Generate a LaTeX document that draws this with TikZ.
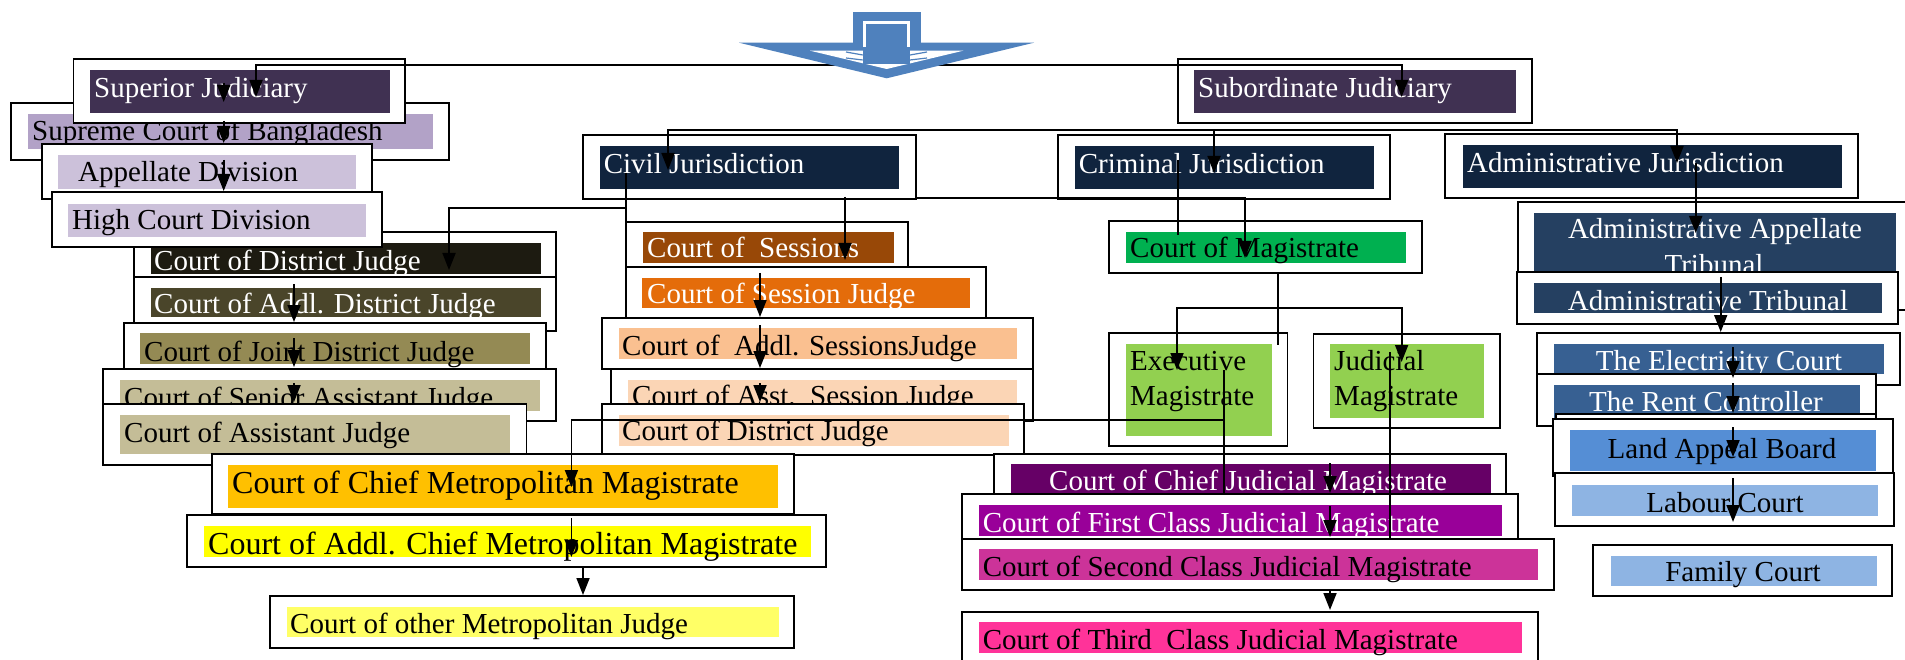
\documentclass[tikz,border=0pt]{standalone}
\usepackage{fontspec}
\setmainfont{Liberation Serif}
\usetikzlibrary{fit,arrows.meta}

\newcommand\fsz{\fontsize{29}{32}\selectfont}
\newcommand\fbig{\fontsize{32}{35}\selectfont}

\definecolor{cSup}{HTML}{403152}
\definecolor{cSupreme}{HTML}{B2A2C7}
\definecolor{cDiv}{HTML}{CCC1DA}
\definecolor{cDj}{HTML}{1D1B11}
\definecolor{cAdj}{HTML}{4A452A}
\definecolor{cJdj}{HTML}{948A54}
\definecolor{cAsj}{HTML}{C4BD97}
\definecolor{cCmm}{HTML}{FFC000}
\definecolor{cAcmm}{HTML}{FFFF00}
\definecolor{cOmj}{HTML}{FFFF66}
\definecolor{cJur}{HTML}{10243E}
\definecolor{cSes}{HTML}{984807}
\definecolor{cSesj}{HTML}{E46C0A}
\definecolor{cAddS}{HTML}{FAC090}
\definecolor{cPeach}{HTML}{FBD5B5}
\definecolor{cMag}{HTML}{00B050}
\definecolor{cLime}{HTML}{92D050}
\definecolor{cCjm}{HTML}{660066}
\definecolor{cFcm}{HTML}{990099}
\definecolor{cScm}{HTML}{CC3399}
\definecolor{cTcm}{HTML}{FF3399}
\definecolor{cTrib}{HTML}{254061}
\definecolor{cElec}{HTML}{376092}
\definecolor{cLab}{HTML}{558ED5}
\definecolor{cLight}{HTML}{8EB4E3}
\definecolor{cArrow}{HTML}{4F81BD}

\tikzset{
  frame/.style={draw=black, line width=1.8pt, fill=white, inner sep=0pt, outer sep=0pt},
  wt/.style={anchor=base west, inner sep=0pt, font=\fsz, text=white},
  bk/.style={anchor=base west, inner sep=0pt, font=\fsz, text=black},
  bkbig/.style={anchor=base west, inner sep=0pt, font=\fbig, text=black},
  wc/.style={anchor=base, inner sep=0pt, font=\fsz, text=white},
  bc/.style={anchor=base, inner sep=0pt, font=\fsz, text=black},
  link/.style={draw=black, line width=1.8pt},
}

% framed court: name, frame corners, colour band corners, band colour
\newcommand\court[6]{%
  \node[frame, fit={(#2)(#3)}] (#1) {};
  \fill[#6] (#4) rectangle (#5);
}

\begin{document}
\begin{tikzpicture}[x=1pt, y=-1pt, >={Triangle[length=17pt,width=13pt]}]
\useasboundingbox (0,0) rectangle (1905,660);
\fill[white] (0,0) rectangle (1905,660);

% ---------------- superior judiciary column
\court{supr}{11,103}{449,160}{28,114}{433,149}{cSupreme}
\node[bk] (t-supr) at (32,141) {Supreme Court of Bangladesh};
\court{sup}{73.5,59}{405,123}{90,70}{390,113}{cSup}
\node[wt] (t-sup) at (94,98) {Superior Judiciary};
\court{app}{42,144}{372,199}{58,155}{356,189}{cDiv}
\node[bk] (t-app) at (78,182) {Appellate Division};
\court{djL}{134,232}{556,277}{151,243}{541,274}{cDj}
\node[wt] (t-djL) at (154,271) {Court of District Judge};
\court{hcd}{52,192}{382,247}{68,204}{366,237}{cDiv}
\node[bk] (t-hcd) at (72,230) {High Court Division};
\court{adjL}{134,277}{556,331}{151,288}{541,317}{cAdj}
\node[wt] (t-adjL) at (154,313) {Court of Addl. District Judge};
\court{jdj}{124,323}{546,369}{140,333}{530,364}{cJdj}
\node[bk] (t-jdj) at (144,361) {Court of Joint District Judge};
\court{saj}{103,369}{556,421}{120,380}{540,411}{cAsj}
\node[bk] (t-saj) at (124,407) {Court of Senior Assistant Judge};
\court{aj}{103,404}{526.5,465}{120,415}{510,454}{cAsj}
\node[bk] (t-aj) at (124,442) {Court of Assistant Judge};

% ---------------- civil jurisdiction column
\court{civ}{583,135}{915.6,199}{600,146}{898.7,189}{cJur}
\node[wt] (t-civ) at (603.6,174) {Civil Jurisdiction};
\court{ses}{626,222}{908,267}{643,232}{894,263}{cSes}
\node[wt] (t-ses) at (647,258) {Court of\ \ Sessions};
\court{sesj}{626,267}{986,318}{642,278}{970,308}{cSesj}
\node[wt] (t-sesj) at (647,303) {Court of Session Judge};
\court{addS}{602,318}{1033,369}{619,328}{1017,359}{cAddS}
\node[bk] (t-addS) at (622,355) {Court of\ \ Addl. SessionsJudge};
\court{asstS}{611,369}{1033,421}{628,380}{1017,411}{cPeach}
\node[bk] (t-asstS) at (632,405) {Court of Asst.\ \ Session Judge};
\court{djC}{602,404}{1024,455}{619,415}{1008.5,446}{cPeach}
\node[bk] (t-djC) at (622,440) {Court of District Judge};

% ---------------- metropolitan courts
\court{cmm}{212,454}{794,514}{228,465}{778,508}{cCmm}
\node[bkbig] (t-cmm) at (232,493) {Court of Chief Metropolitan Magistrate};
\court{acmm}{187,515}{826,567}{204,526}{811,557}{cAcmm}
\node[bkbig] (t-acmm) at (208,554) {Court of Addl. Chief Metropolitan Magistrate};
\court{omj}{270,596}{794,648}{287,607}{779,637}{cOmj}
\node[bk] (t-omj) at (290,633) {Court of other Metropolitan Judge};

% ---------------- criminal jurisdiction column
\court{sub}{1177.7,59}{1532,123}{1194,70}{1516,113}{cSup}
\node[wt] (t-sub) at (1198,98) {Subordinate Judiciary};
\court{crim}{1057.6,135}{1389.6,199}{1074.6,146}{1374,189}{cJur}
\node[wt] (t-crim) at (1078.6,174) {Criminal Jurisdiction};
\court{mag}{1109,221}{1422,273}{1126,232}{1406,263}{cMag}
\node[bk] (t-mag) at (1130,258) {Court of Magistrate};
\court{exm}{1109,333}{1287.5,446}{1126,344}{1272,436}{cLime}
\node[bk] (t-exm1) at (1130,370) {Executive};
\node[bk] (t-exm2) at (1130,405) {Magistrate};
\court{jum}{1313.5,334}{1499.6,428}{1330,344}{1484,418}{cLime}
\node[bk] (t-jum1) at (1334,370) {Judicial};
\node[bk] (t-jum2) at (1334,405) {Magistrate};
\court{cjm}{994,454}{1505.6,500}{1011,464}{1491,494}{cCjm}
\node[wt] (t-cjm) at (1049,490) {Court of Chief Judicial Magistrate};
\court{fcm}{961.6,494}{1518,539}{979,505}{1502,536}{cFcm}
\node[wt] (t-fcm) at (982.6,532) {Court of First Class Judicial Magistrate};
\court{scm}{961.6,539}{1554,590}{979,549}{1538,580}{cScm}
\node[bk] (t-scm) at (982.6,576) {Court of Second Class Judicial Magistrate};
\court{tcm}{961.6,612}{1538,672}{979,622}{1522,653}{cTcm}
\node[bk] (t-tcm) at (982.6,649) {Court of Third\ \ Class Judicial Magistrate};

% ---------------- administrative jurisdiction column
\court{adm}{1445,134}{1858,198}{1463,145}{1842,188}{cJur}
\node[wt] (t-adm) at (1467,173) {Administrative Jurisdiction};
\court{aat}{1518,202}{1915,310}{1534,213}{1896,295}{cTrib}
\node[wc] (t-aat1) at (1715,239) {Administrative Appellate};
\node[wc] (t-aat2) at (1714,274) {Tribunal};
\court{at}{1517,272}{1898,324}{1534,283}{1882,313}{cTrib}
\node[wc] (t-at) at (1708,310) {Administrative Tribunal};
\court{elc}{1537,333}{1900,385}{1554,344}{1884,374}{cElec}
\node[wc] (t-elc) at (1719,370) {The Electricity Court};
\court{rent}{1537,374}{1876,426}{1554,385}{1860,420}{cElec}
\node[wc] (t-rent) at (1706,411) {The Rent Controller};
\node[frame, fit={(1556,414)(1876,482)}] (lab0) {};
\court{lab}{1553,419}{1893,476}{1570,430}{1876,471}{cLab}
\node[bc] (t-lab) at (1722,458) {Land Appeal Board};
\court{labr}{1555,473}{1894,526}{1572,485}{1878,516}{cLight}
\node[bc] (t-labr) at (1725,512) {Labour Court};
\court{fam}{1593,545}{1892,596}{1611,556}{1877,586}{cLight}
\node[bc] (t-fam) at (1743,581) {Family Court};

% ---------------- connectors
\draw[link,<->] (256,97) |- (1401.6,65) -- (1401.6,97);
\draw[link,->] (223.7,83) -- (223.7,102);
\draw[link,->] (223.7,121) -- (223.7,143);
\draw[link,->] (223.7,160) -- (223.7,191);
\draw[link] (626,173) -- (626,318);
\draw[link,->] (626,208) -| (449,270);
\draw[link,->] (294,284) -- (294,322);
\draw[link,->] (294,338) -- (294,367);
\draw[link,->] (294,383) -- (294,402);
\draw[link] (1224,370) -- (1224,495);
\draw[link,->] (1224,420) -| (571.4,487);
\draw[link,->] (571.4,518) -- (571.4,557);
\draw[link,->] (583,567) -- (583,595);
\draw[link,->] (845,197) -- (845,260);
\draw[link,->] (760,273) -- (760,317);
\draw[link,->] (760,325) -- (760,368);
\draw[link,->] (760,383) -- (760,402);
\draw[link,->] (915.6,198) -| (1245,258);
\draw[link] (1178,160) -- (1178,235);
\draw[link,<->] (668,170) |- (1677,130) -- (1677,163);
\draw[link,->] (1214,130) -- (1214,173);
\draw[link] (1278,273) -- (1278,345);
\draw[link,<->] (1177,370) |- (1401.6,308) -- (1401.6,362);
\draw[link] (1389.6,352) -- (1389.6,538);
\draw[link,->] (1330,463) -- (1330,493);
\draw[link,->] (1330,506) -- (1330,537);
\draw[link,->] (1330,590) -- (1330,610);
\draw[link,->] (1695.7,163) -- (1695.7,233);
\draw[link,->] (1720.7,277) -- (1720.7,332);
\draw[link,->] (1733,347) -- (1733,378);
\draw[link,->] (1733,383) -- (1733,413);
\draw[link,->] (1733,427) -- (1733,457);
\draw[link,->] (1733,478) -- (1733,522);

% ---------------- block arrow at the top
\fill[cArrow] (853,12.3) rectangle (920.7,42.7);
\fill[cArrow] (739,42.7) -- (1034,42.7) -- (886.7,78.3) -- cycle;
\fill[white] (810,50.7) -- (963.3,50.7) -- (886.7,69) -- cycle;
\fill[cArrow] (862.7,42.7) rectangle (910,64.5);
\draw[white, line width=3pt] (864.2,46.7) -- (864.2,22.7) -- (908.4,22.7) -- (908.4,46.7);
\draw[cArrow, line width=1.2pt] (846,52) -- (862.7,55) (846,58) -- (862.7,60)
      (910,55) -- (927,52) (910,60) -- (927,58);
\end{tikzpicture}
\end{document}
